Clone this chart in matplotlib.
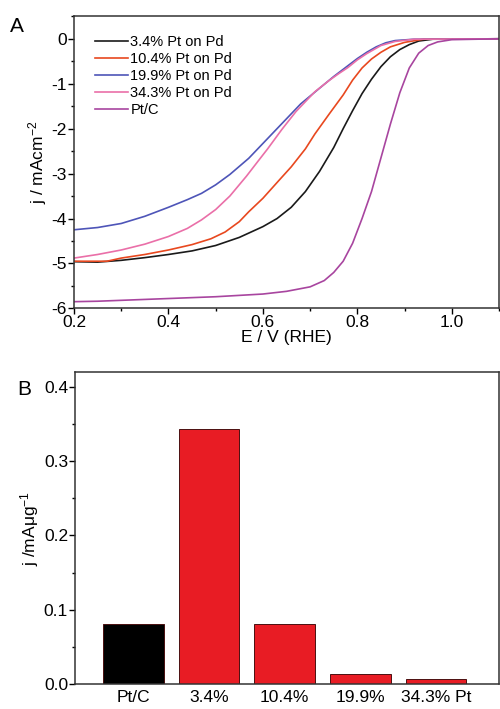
import numpy as np
import matplotlib
matplotlib.use('Agg')
import matplotlib.pyplot as plt
from matplotlib.ticker import MultipleLocator

plt.rcParams['font.family'] = ['Liberation Sans', 'DejaVu Sans']
plt.rcParams['axes.unicode_minus'] = False
plt.rcParams['mathtext.fontset'] = 'custom'
plt.rcParams['mathtext.rm'] = 'Liberation Sans'
plt.rcParams['mathtext.default'] = 'regular'

# panel A: polarisation curves (E in V vs RHE, j in mA cm-2)
E_34 = [0.20, 0.25, 0.30, 0.35, 0.40, 0.45, 0.50, 0.55, 0.60, 0.63, 0.66, 0.69, 0.72, 0.75, 0.77,
        0.79, 0.81, 0.83, 0.85, 0.87, 0.89, 0.91, 0.93, 0.96, 1.10]
j_34 = [-4.96, -4.97, -4.93, -4.87, -4.80, -4.72, -4.60, -4.42, -4.18, -4.00, -3.75, -3.40, -2.95, -2.42, -2.00,
        -1.60, -1.22, -0.90, -0.62, -0.40, -0.24, -0.13, -0.05, -0.01, 0.0]

E_104 = [0.20, 0.27, 0.30, 0.35, 0.40, 0.45, 0.49, 0.52, 0.55, 0.57, 0.60, 0.635, 0.66, 0.69, 0.71,
         0.74, 0.77, 0.79, 0.81, 0.83, 0.85, 0.87, 0.90, 0.94, 1.10]
j_104 = [-4.95, -4.95, -4.88, -4.80, -4.70, -4.58, -4.45, -4.30, -4.07, -3.85, -3.55, -3.14, -2.85, -2.45, -2.12,
         -1.68, -1.25, -0.92, -0.65, -0.45, -0.30, -0.18, -0.08, -0.01, 0.0]

E_199 = [0.20, 0.25, 0.30, 0.35, 0.40, 0.44, 0.47, 0.50, 0.53, 0.57, 0.61, 0.65, 0.68, 0.72, 0.75,
         0.78, 0.80, 0.82, 0.84, 0.86, 0.88, 0.92, 1.10]
j_199 = [-4.25, -4.20, -4.11, -3.95, -3.75, -3.58, -3.44, -3.25, -3.02, -2.66, -2.22, -1.78, -1.45, -1.10, -0.84,
         -0.60, -0.44, -0.30, -0.18, -0.09, -0.04, -0.01, 0.0]

E_343 = [0.20, 0.25, 0.30, 0.35, 0.40, 0.44, 0.47, 0.50, 0.53, 0.565, 0.59, 0.61, 0.64, 0.67, 0.71,
         0.74, 0.76, 0.78, 0.80, 0.82, 0.85, 0.88, 0.92, 1.10]
j_343 = [-4.88, -4.80, -4.70, -4.57, -4.40, -4.22, -4.03, -3.80, -3.50, -3.06, -2.72, -2.45, -2.02, -1.62, -1.18,
         -0.93, -0.78, -0.64, -0.47, -0.33, -0.15, -0.06, -0.01, 0.0]

E_ptc = [0.20, 0.25, 0.30, 0.40, 0.50, 0.60, 0.65, 0.70, 0.73, 0.75, 0.77, 0.79, 0.81, 0.83, 0.85,
         0.87, 0.89, 0.91, 0.93, 0.95, 0.97, 1.00, 1.10]
j_ptc = [-5.85, -5.84, -5.82, -5.78, -5.74, -5.68, -5.62, -5.52, -5.38, -5.20, -4.95, -4.55, -4.00, -3.40, -2.65,
         -1.90, -1.20, -0.65, -0.32, -0.15, -0.07, -0.02, 0.0]

curve_labels = ['3.4% Pt on Pd', '10.4% Pt on Pd', '19.9% Pt on Pd', '34.3% Pt on Pd', 'Pt/C']
curve_colors = ['#1a1a1a', '#e8481f', '#4e55b8', '#ea6fa8', '#a8459f']

# panel B: mass activity (mA ug-1)
samples = ['Pt/C', '3.4%', '10.4%', '19.9%', '34.3% Pt']
mass_act = [0.081, 0.343, 0.081, 0.0135, 0.0063]
bar_colors = ['#000000', '#e81c24', '#e81c24', '#e81c24', '#e81c24']

fig = plt.figure(figsize=(5.0, 7.09), dpi=100)

# ---- A ----
ax1 = fig.add_axes([0.148, 0.565, 0.850, 0.412])
curves = [(E_34, j_34), (E_104, j_104), (E_199, j_199), (E_343, j_343), (E_ptc, j_ptc)]
for (e, j), lab, col in zip(curves, curve_labels, curve_colors):
    ax1.plot(e, j, '-', color=col, lw=1.2, label=lab)
ax1.set_xlim(0.2, 1.1)
ax1.set_ylim(-6, 0.5)
ax1.set_xticks([0.2, 0.4, 0.6, 0.8, 1.0])
ax1.set_xticklabels(['0.2', '0.4', '0.6', '0.8', '1.0'])
ax1.xaxis.set_minor_locator(MultipleLocator(0.1))
ax1.set_yticks([-6, -5, -4, -3, -2, -1, 0])
ax1.yaxis.set_minor_locator(MultipleLocator(0.5))
ax1.tick_params(which='major', direction='out', length=4, width=1, labelsize=12.5, pad=1)
ax1.tick_params(which='minor', direction='out', length=2.5, width=1)
ax1.set_xlabel('E / V (RHE)', fontsize=12.5, labelpad=0)
ax1.set_ylabel('j / mAcm$^{-2}$', fontsize=12.5, labelpad=2)
for sp in ax1.spines.values():
    sp.set_linewidth(1.1)
    sp.set_color('#333333')
ax1.legend(loc='upper left', bbox_to_anchor=(0.035, 0.955), frameon=False, fontsize=10.5,
           handlelength=2.3, handletextpad=0.15, labelspacing=0.2, borderaxespad=0)
fig.text(0.02, 0.955, 'A', fontsize=15)

# ---- B ----
ax2 = fig.add_axes([0.150, 0.0353, 0.848, 0.440])
x = np.arange(len(samples))
ax2.bar(x, mass_act, width=0.8, color=bar_colors, edgecolor='#4a1010', linewidth=0.7)
ax2.set_xlim(-0.77, 4.83)
ax2.set_ylim(0, 0.42)
ax2.set_yticks([0.0, 0.1, 0.2, 0.3, 0.4])
ax2.set_yticklabels(['0.0', '0.1', '0.2', '0.3', '0.4'])
ax2.yaxis.set_minor_locator(MultipleLocator(0.05))
ax2.set_xticks(x)
ax2.set_xticklabels(samples)
ax2.tick_params(axis='x', length=0, labelsize=12.5, pad=4)
ax2.tick_params(axis='y', which='major', direction='out', length=4, width=1, labelsize=12.5, pad=1)
ax2.tick_params(axis='y', which='minor', direction='out', length=2.5, width=1)
ax2.set_ylabel('j /mAμg$^{-1}$', fontsize=12.5, labelpad=2)
for sp in ax2.spines.values():
    sp.set_linewidth(1.1)
    sp.set_color('#333333')
fig.text(0.035, 0.443, 'B', fontsize=15)

fig.savefig('out.png', dpi=100, facecolor='white')
